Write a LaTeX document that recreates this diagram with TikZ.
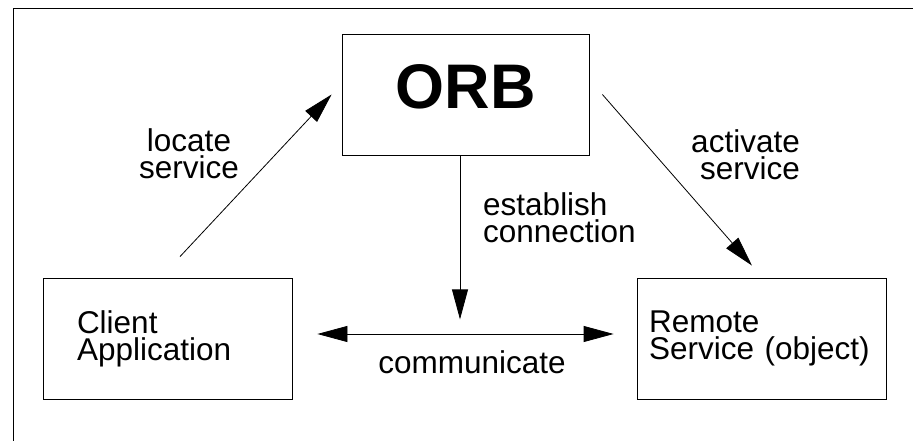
\documentclass[tikz,border=0pt]{standalone}
\usepackage{fontspec}
\setmainfont{Liberation Sans}
\usepackage{tikz}
\usetikzlibrary{arrows.meta,positioning,calc}

\begin{document}
\begin{tikzpicture}[
  x=1pt, y=1pt,
  box/.style={
    draw, line width=0.8pt, minimum width=249pt, minimum height=121pt,
    inner sep=0pt, align=left, font=\fontsize{31.5}{27}\selectfont
  },
  arr/.style={-{Triangle[length=30pt,width=16pt]}, line width=0.8pt},
  lbl/.style={font=\fontsize{31.5}{27}\selectfont, inner sep=0pt}
]
\useasboundingbox (0,0) rectangle (913,441);

% Frame (only top and left edges show)
\draw[line width=1pt] (13,0) -- (13,432) -- (913,432);

% ORB -- top
\node[box, minimum width=247pt, text depth=16pt,
      font=\fontsize{63}{63}\selectfont\bfseries] (orb) at (465.5,346.5) {ORB};

% Client and remote service -- bottom
\node[box, text width=181pt] (client) at (167.5,102.5)
  {Client\\Application};
\node[box, text width=225pt] (remote) at (761.5,102.5)
  {Remote\\Service (object)};

% Connectors
\coordinate (meet) at ($(orb.south)+(-5.5,-164)$);
\draw[arr] ($(client.north)+(12.5,21)$) -- ($(orb.west)+(-10,0)$);
\draw[arr] ($(orb.east)+(13,0)$) -- ($(remote.north)+(-9.5,12)$);
\draw[arr] ($(orb.south)+(-5.5,0)$) -- (meet);
\draw[arr, {Triangle[length=30pt,width=16pt]}-{Triangle[length=30pt,width=16pt]}]
  ($(client.east)+(25,4.5)$) -- ($(remote.west)+(-23,4.5)$);

% Labels
\node[lbl, align=center] (locate) at (189,287) {locate\\service};
\node[lbl, align=right, anchor=east] (activate) at (800,286.5) {activate\\service};
\node[lbl, align=left, anchor=west] (establish) at (483,223) {establish\\connection};
\node[lbl] (communicate) at (472,78.5) {communicate};

\end{tikzpicture}
\end{document}
